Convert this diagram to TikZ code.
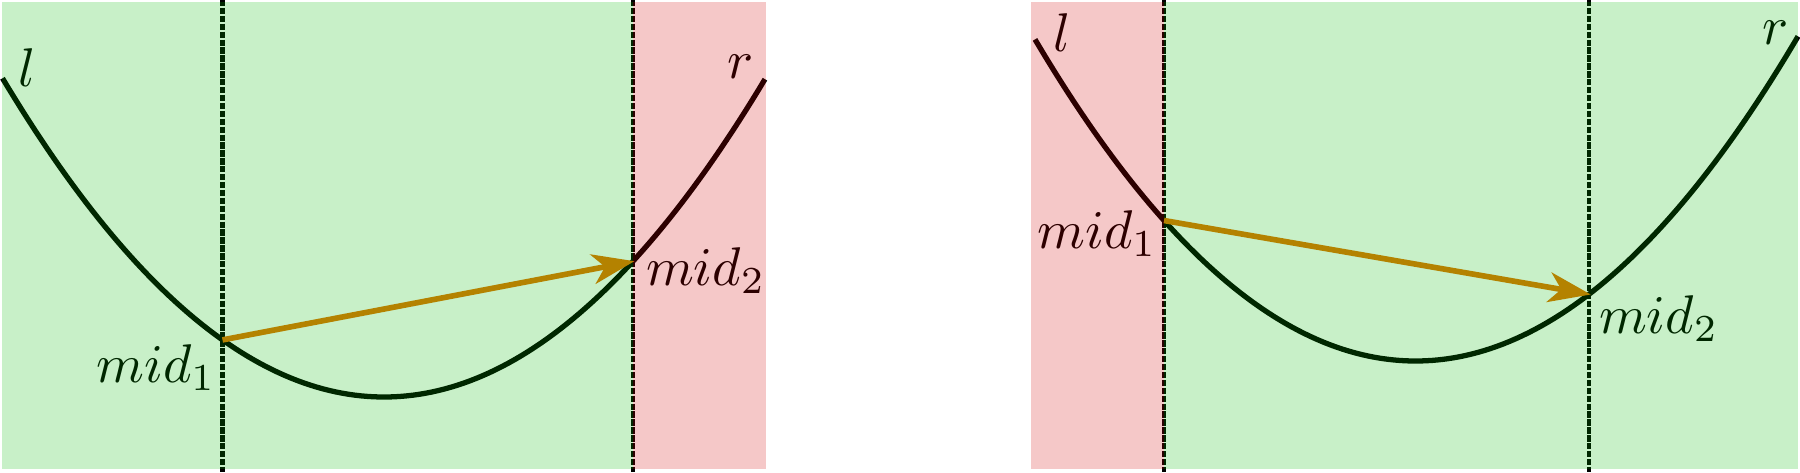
\documentclass[tikz,border=0pt]{standalone}
\usetikzlibrary{arrows.meta}
\definecolor{ovgreen}{RGB}{0,185,0}
\definecolor{ovred}{RGB}{208,0,0}
\definecolor{arrowcol}{RGB}{230,115,0}
\tikzset{
  curvestyle/.style={line width=1.5pt, black},
  splitline/.style={line width=1.2pt, black, dash pattern=on 1.8pt off 0.45pt},
  movearrow/.style={line width=1.6pt, arrowcol, -{Stealth[length=12pt,width=8.5pt,inset=3.5pt]}, shorten >=-0.5pt},
  lbl/.style={inner sep=0pt, scale=1.55, text=black},
  goodzone/.style={fill=ovgreen, fill opacity=0.216},
  badzone/.style={fill=ovred, fill opacity=0.216}
}
\begin{document}
\begin{tikzpicture}[x=0.01cm, y=-0.01cm]
\useasboundingbox (0,0) rectangle (1800,472);

% ---------- left panel ----------
\draw[curvestyle] plot[domain=-3.815:3.81, samples=120, variable=\u] ({384+100*\u}, {397-21.9*\u*\u});
\coordinate (Lm1) at (222.5, 339.9);
\coordinate (Lm2) at (632.7, 261.5);
\coordinate (LtopA) at (222.5, 0);
\coordinate (LbotA) at (222.5, 472);
\coordinate (LtopB) at (632.7, 0);
\coordinate (LbotB) at (632.7, 472);
\draw[splitline] (LtopA) -- (LbotA);
\draw[splitline] (LtopB) -- (LbotB);
\draw[movearrow] (Lm1) -- (Lm2);
\node[lbl] (Ll) at (27.5, 67.5) {$l$};
\node[lbl] (Lr) at (741, 67) {$r$};
\node[lbl, anchor=base east] (Lmidone) at (217, 382) {$mid_1$};
\node[lbl, anchor=base west] (Lmidtwo) at (645, 285) {$mid_2$};
\fill[goodzone] (2,2) rectangle (632.7,469);
\fill[badzone] (632.7,2) rectangle (766,469);

% ---------- right panel ----------
\draw[curvestyle] plot[domain=-3.806:3.824, samples=120, variable=\u] ({1415.6+100*\u}, {361-22.2*\u*\u});
\coordinate (Rm1) at (1164, 220.5);
\coordinate (Rm2) at (1589, 294.2);
\coordinate (RtopA) at (1164, 0);
\coordinate (RbotA) at (1164, 472);
\coordinate (RtopB) at (1589, 0);
\coordinate (RbotB) at (1589, 472);
\draw[splitline] (RtopA) -- (RbotA);
\draw[splitline] (RtopB) -- (RbotB);
\draw[movearrow] (Rm1) -- (Rm2);
\node[lbl] (Rl) at (1062, 33) {$l$};
\node[lbl] (Rr) at (1776, 33) {$r$};
\node[lbl, anchor=base east] (Rmidone) at (1158, 248) {$mid_1$};
\node[lbl, anchor=base west] (Rmidtwo) at (1598, 333) {$mid_2$};
\fill[badzone] (1031,2) rectangle (1164,469);
\fill[goodzone] (1164,2) rectangle (1798,469);
\end{tikzpicture}
\end{document}
